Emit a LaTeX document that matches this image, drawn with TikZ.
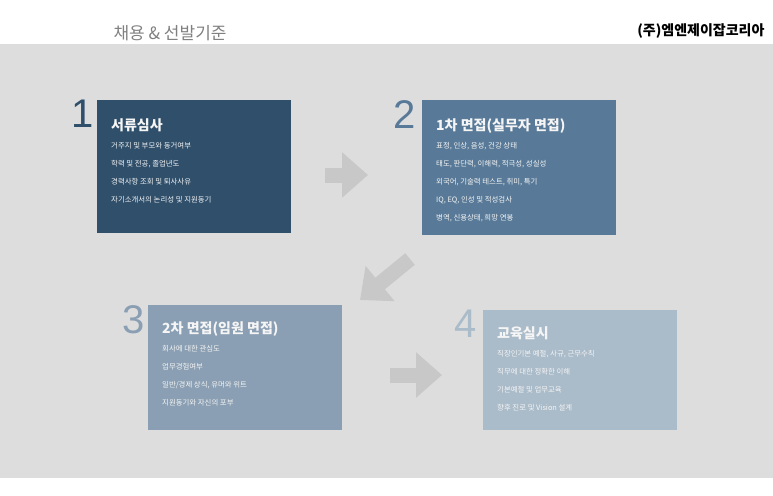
\documentclass[tikz,border=0pt]{standalone}
\usepackage{fontspec}
\setmainfont{Noto Sans CJK KR}
\newfontfamily\numfont{Liberation Sans}
\usepackage{tikz}
\usetikzlibrary{arrows.meta,positioning,calc}
\definecolor{navy}{HTML}{2F4F6B}
\definecolor{steel}{HTML}{587A98}
\definecolor{slate}{HTML}{8A9FB3}
\definecolor{mist}{HTML}{AABBC9}
\definecolor{panel}{HTML}{DDDDDD}
\definecolor{flow}{HTML}{C8C8C8}
\newcommand{\stagehead}{\fontsize{14}{18}\selectfont\bfseries}
\tikzset{
  stagebox/.style={anchor=north west, inner sep=0pt},
  stagetext/.style={anchor=north west, inner sep=0pt, align=left, text=white!92!gray,
    font=\fontsize{7.4}{18}\selectfont},
  stagenum/.style={anchor=north east, inner sep=0pt, font=\numfont\fontsize{40}{40}\selectfont},
  flowarrow/.style={flow, line width=15pt, -{Triangle[length=26pt,width=44pt]}}
}
\begin{document}
\begin{tikzpicture}[x=1pt,y=-1pt]
\useasboundingbox (0,0) rectangle (773,495);
\fill[panel] (0,44) rectangle (773,478);

\node[anchor=west, text=gray, font=\fontsize{17}{17}\selectfont] (title) at (110,33) {채용 \& 선발기준};
\node[anchor=east, font=\bfseries\fontsize{14}{14}\selectfont] (corp) at (768,31) {(주)엠엔제이잡코리아};

% stage boxes
\node[stagebox, fill=navy, minimum width=194pt, minimum height=133pt] (s1) at (97,100) {};
\node[stagebox, fill=steel, minimum width=194pt, minimum height=135pt] (s2) at (422,100) {};
\node[stagebox, fill=slate, minimum width=194pt, minimum height=125pt] (s3) at (148,305) {};
\node[stagebox, fill=mist, minimum width=194pt, minimum height=120pt] (s4) at (483,310) {};

% box texts
\node[stagetext] (t1) at ($(s1.north west)+(14,18)$)
  {{\stagehead 서류심사}\\거주지 및 부모와 동거여부\\학력 및 전공, 졸업년도\\경력사항 조회 및 퇴사사유\\자기소개서의 논리성 및 지원동기};
\node[stagetext] (t2) at ($(s2.north west)+(14,18)$)
  {{\stagehead 1차 면접(실무자 면접)}\\표정, 인상, 음성, 건강 상태\\태도, 판단력, 이해력, 적극성, 성실성\\외국어, 기술력 테스트, 취미, 특기\\IQ, EQ, 인성 및 적성검사\\병역, 신용상태, 희망 연봉};
\node[stagetext] (t3) at ($(s3.north west)+(14,16)$)
  {{\stagehead 2차 면접(임원 면접)}\\회사에 대한 관심도\\업무경험여부\\일반/경제 상식, 유머와 위트\\지원동기와 자신의 포부};
\node[stagetext] (t4) at ($(s4.north west)+(14,16)$)
  {{\stagehead 교육실시}\\직장인기본 예절, 사규, 근무수칙\\직무에 대한 정확한 이해\\기본예절 및 업무교육\\향후 진로 및 Vision 설계};

% step numbers
\node[stagenum, text=navy] (n1) at ($(s1.north west)+(-3,0)$) {1};
\node[stagenum, text=steel] (n2) at ($(s2.north west)+(-6,0)$) {2};
\node[stagenum, text=slate] (n3) at ($(s3.north west)+(-3,0)$) {3};
\node[stagenum, text=mist] (n4) at ($(s4.north west)+(-6,0)$) {4};

% arrows
\coordinate (a1) at (325,175); \coordinate (b1) at (368,175);
\coordinate (a2) at (410,259); \coordinate (b2) at (360,300);
\coordinate (a3) at (390,375); \coordinate (b3) at (442,375);
\draw[flowarrow] (a1) -- (b1);
\draw[flowarrow] (a2) -- (b2);
\draw[flowarrow] (a3) -- (b3);
\end{tikzpicture}
\end{document}
